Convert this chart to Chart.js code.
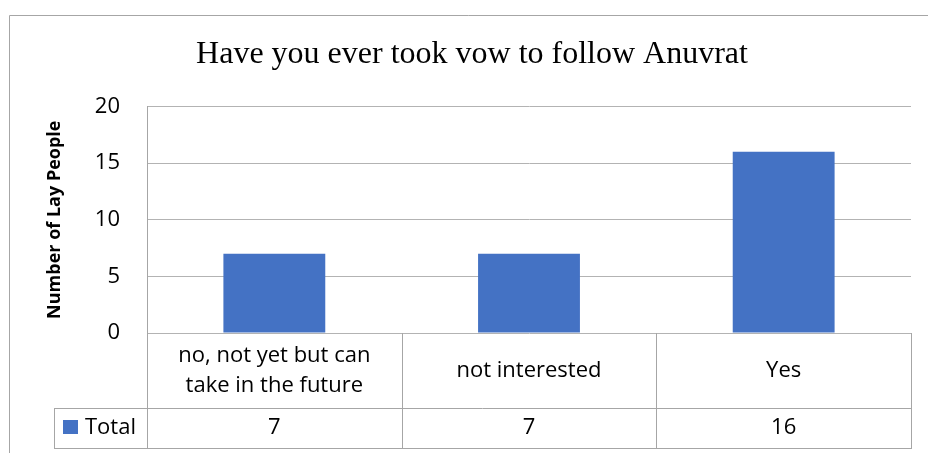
<!DOCTYPE html>
<html>
<head>
<meta charset="utf-8">
<title>Have you ever took vow to follow Anuvrat</title>
<script src="https://cdn.jsdelivr.net/npm/chart.js@4.4.0/dist/chart.umd.min.js"></script>
<style>
html, body { margin: 0; padding: 0; background: #fff; }
#wrap { width: 928px; height: 453px; }
</style>
</head>
<body>
<div id="wrap"><canvas id="mycanvas" width="928" height="453"></canvas></div>
<script>
// ** Anuvrat vow survey - bar graph with data table

var chartTitle = 'Have you ever took vow to follow Anuvrat';
var axisTitle = 'Number of Lay People';
var seriesName = 'Total';
var categories = [['no, not yet but can', 'take in the future'], 'not interested', 'Yes'];
var totals = [7, 7, 16];
var yTicks = [0, 5, 10, 15, 20];

var barColor = '#4472C4';
var lineColor = '#a6a6a6';
var bodyFont = 'Open Sans';

// white page + the chart frame (top and left edges show, the rest is cut off)
var framePlugin = {
	id: 'frame',
	beforeDraw: function(chart) {
		var ctx = chart.ctx;
		ctx.save();
		ctx.fillStyle = '#fff';
		ctx.fillRect(0, 0, chart.width, chart.height);
		ctx.strokeStyle = lineColor;
		ctx.lineWidth = 1;
		ctx.beginPath();
		ctx.moveTo(9.5, chart.height);
		ctx.lineTo(9.5, 15.5);
		ctx.lineTo(chart.width, 15.5);
		ctx.stroke();
		ctx.restore();
	}
};

// excel style data table under the plot
var tablePlugin = {
	id: 'dataTable',
	afterDraw: function(chart) {
		var ctx = chart.ctx;
		var x = chart.scales.x;
		var area = chart.chartArea;
		var colW = (x.right - x.left) / categories.length;
		var row1 = area.bottom + 75;
		var row2 = row1 + 40;
		var legL = 54;
		var mid = (row1 + row2) / 2;

		ctx.save();
		ctx.strokeStyle = lineColor;
		ctx.lineWidth = 1;
		ctx.beginPath();
		for (var i = 0; i <= categories.length; i++) {
			var px = Math.round(x.left + i * colW) + 0.5;
			ctx.moveTo(px, area.bottom);
			ctx.lineTo(px, row2 + 1);
		}
		ctx.moveTo(legL + 0.5, row1);
		ctx.lineTo(legL + 0.5, row2 + 1);
		ctx.moveTo(legL, row1 + 0.5);
		ctx.lineTo(x.right, row1 + 0.5);
		ctx.moveTo(legL, row2 + 0.5);
		ctx.lineTo(x.right + 1, row2 + 0.5);
		ctx.stroke();

		ctx.fillStyle = barColor;
		ctx.fillRect(63, 420, 15, 14);

		ctx.fillStyle = '#000';
		ctx.font = '22px "' + bodyFont + '"';
		ctx.textBaseline = 'middle';
		ctx.textAlign = 'left';
		ctx.fillText(seriesName, 85, mid);
		ctx.textAlign = 'center';
		for (var j = 0; j < totals.length; j++) {
			ctx.fillText(String(totals[j]), x.getPixelForValue(j), mid);
		}
		ctx.restore();
	}
};

var chartdata = {
	labels: categories,
	datasets: [{
		label: seriesName,
		backgroundColor: barColor,
		borderWidth: 0,
		barPercentage: 0.4,
		categoryPercentage: 1.0,
		data: totals
	}]
};

var ctx = document.getElementById('mycanvas');

var barGraph = new Chart(ctx, {
	type: 'bar',
	data: chartdata,
	plugins: [framePlugin, tablePlugin],
	options: {
		responsive: false,
		animation: false,
		layout: {
			padding: { left: 16, right: 0, top: 0, bottom: 0 }
		},
		plugins: {
			legend: { display: false },
			tooltip: { enabled: false },
			title: {
				display: true,
				text: chartTitle,
				color: '#000',
				font: { family: 'Liberation Serif', size: 32, weight: 'normal', lineHeight: 1.2 },
				padding: { top: 35, bottom: 33 }
			}
		},
		scales: {
			x: {
				grid: { display: false },
				border: { display: false },
				ticks: {
					color: '#000',
					font: { family: bodyFont, size: 22, lineHeight: 1.36 },
					padding: 15,
					maxRotation: 0,
					autoSkip: false,
					crossAlign: 'center'
				},
				afterFit: function(s) { s.height = 120; }
			},
			y: {
				min: yTicks[0],
				max: yTicks[yTicks.length - 1],
				grid: { color: '#b3b3b3', drawTicks: false },
				border: { color: lineColor },
				ticks: {
					stepSize: yTicks[1] - yTicks[0],
					color: '#000',
					font: { family: bodyFont, size: 22 },
					padding: 27
				},
				title: {
					display: true,
					text: axisTitle,
					color: '#000',
					font: { family: bodyFont, size: 18, weight: 'bold', lineHeight: 1.2 },
					padding: { top: 28, bottom: 0 }
				},
				afterFit: function(s) { s.width = 131; }
			},
			y2: {
				type: 'linear',
				position: 'right',
				grid: { display: false },
				border: { display: false },
				ticks: { display: false },
				afterFit: function(s) { s.width = 17; }
			}
		}
	}
});
</script>
</body>
</html>
